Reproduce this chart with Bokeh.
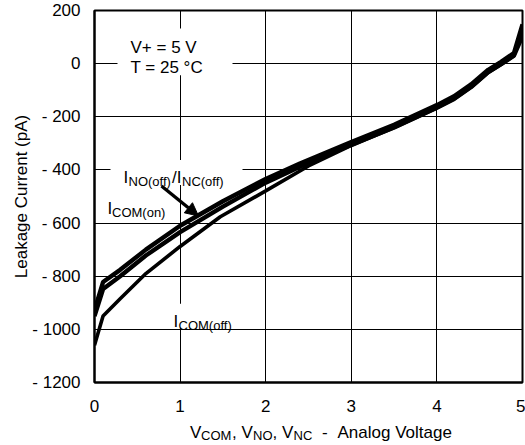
from bokeh.plotting import figure
from bokeh.models import Label, Arrow, NormalHead, BoxAnnotation, FixedTicker, Range1d, LinearAxis
from bokeh.embed import file_html
from bokeh.resources import INLINE

# ---- data ----
voltage = [0, 0.1, 0.3, 0.6, 1.0, 1.5, 2.0, 2.4, 3.0, 3.5, 4.0, 4.2, 4.4, 4.6, 4.75, 4.9, 5.0]
i_com_on = [-928, -822, -776, -700, -610, -518, -434, -376, -295, -230, -156, -123, -78, -23, 7, 40, 148]
i_no_off = [-950, -848, -800, -722, -634, -538, -448, -388, -305, -240, -166, -133, -88, -32, -2, 30, 105]

voltage_com_off = [0, 0.1, 0.3, 0.6, 1.0, 1.47, 2.0, 2.5, 3.0, 3.5, 4.0, 4.2, 4.4, 4.6, 4.75, 4.9, 5.0]
i_com_off = [-1060, -950, -885, -790, -688, -576, -479, -385, -308, -241, -166, -133, -88, -33, -3, 30, 125]

x_ticks = [0, 1, 2, 3, 4, 5]
y_ticks = [-1200, -1000, -800, -600, -400, -200, 0, 200]
y_tick_labels = ["- 1200", "- 1000", "- 800", "- 600", "- 400", "- 200", "0", "200"]

x_title_main = ["V", ", V", ", V", "-", "Analog Voltage"]
x_title_sub = ["COM", "NO", "NC"]

FONT = "Liberation Sans"
MAIN = "17px"
SUB = "13px"

# frame geometry (pixels)
FL, FR, FT, FB = 94, 522, 10, 383
W, H = 525, 445

p = figure(width=W, height=H, x_range=Range1d(0, 5), y_range=Range1d(-1200, 200),
           output_backend="svg", toolbar_location=None,
           min_border_left=FL, min_border_right=W - FR, min_border_top=FT, min_border_bottom=H - FB)
p.background_fill_color = "white"
p.border_fill_color = "white"
p.outline_line_color = "black"
p.outline_line_width = 2


def dx(px):
    return round((px - FL) / (FR - FL) * 5.0, 5)


def dy(py):
    return 200 - (py - FT) / (FB - FT) * 1400.0


# axes
p.xaxis.ticker = FixedTicker(ticks=x_ticks)
p.yaxis.ticker = FixedTicker(ticks=y_ticks)
p.yaxis.major_label_overrides = {t: s for t, s in zip(y_ticks, y_tick_labels)}
for ax in (p.xaxis[0], p.yaxis[0]):
    ax.major_tick_line_color = None
    ax.minor_tick_line_color = None
    ax.axis_line_color = "black"
    ax.axis_line_width = 2
    ax.major_label_text_font = FONT
    ax.major_label_text_font_size = MAIN
    ax.major_label_text_color = "black"
p.xaxis.major_label_standoff = 11
p.yaxis.major_label_standoff = 8
p.yaxis.axis_label = "Leakage Current (pA)"
p.yaxis.axis_label_text_font = FONT
p.yaxis.axis_label_text_font_size = MAIN
p.yaxis.axis_label_text_font_style = "normal"
p.yaxis.axis_label_text_color = "black"
p.yaxis.axis_label_standoff = -2

# x-axis title built from pieces (main text and subscripts) on two label-only axes;
# positions are the pixel centres of each piece
main_pos = [dx(v) for v in (195.2, 241.9, 282.4, 324.3, 394.2)]
sub_pos = [dx(v) for v in (215.7, 262.3, 302.4)]
for pos, texts, size, standoff in [(main_pos, x_title_main, MAIN, 2), (sub_pos, x_title_sub, SUB, -23)]:
    a = LinearAxis(ticker=FixedTicker(ticks=pos),
                   major_label_overrides={k: t for k, t in zip(pos, texts)})
    a.axis_line_color = None
    a.major_tick_line_color = None
    a.minor_tick_line_color = None
    a.major_label_text_font = FONT
    a.major_label_text_font_size = size
    a.major_label_text_color = "black"
    a.major_label_standoff = standoff
    p.add_layout(a, "below")

p.xgrid.ticker = FixedTicker(ticks=x_ticks)
p.ygrid.ticker = FixedTicker(ticks=y_ticks)
p.grid.grid_line_color = "black"
p.grid.grid_line_width = 1
p.grid.grid_line_alpha = 1

# curves
p.line(voltage_com_off, i_com_off, line_color="black", line_width=3.6)
p.line(voltage, i_no_off, line_color="black", line_width=4.4)
p.line(voltage, i_com_on, line_color="black", line_width=4.4)

# white boxes behind the in-plot labels
for (l, r, t, b) in [(117, 232, 28, 75), (110, 242, 160, 185), (168, 240, 304, 328)]:
    p.add_layout(BoxAnnotation(left=dx(l), right=dx(r), top=dy(t), bottom=dy(b),
                               fill_color="white", fill_alpha=1, line_color=None))


def txt(s, px, py, size=MAIN):
    p.add_layout(Label(x=dx(px), y=dy(py), text=s, text_font=FONT, text_font_size=size,
                       text_color="black", text_align="left", text_baseline="alphabetic"))


txt("V+ = 5 V", 130, 47)
txt("T = 25 °C", 130, 67)

txt("I", 123, 177)
txt("NO(off)", 128, 181, SUB)
txt("/I", 171.5, 177)
txt("NC(off)", 181.5, 181, SUB)

txt("I", 107, 209)
txt("COM(on)", 111.5, 213, SUB)

txt("I", 173, 322)
txt("COM(off)", 178, 326, SUB)

p.add_layout(Arrow(end=NormalHead(size=13, fill_color="black", line_color="black"),
                   x_start=dx(161), y_start=dy(186), x_end=dx(198), y_end=dy(216),
                   line_color="black", line_width=3.4))

open("out.html", "w").write(file_html(p, INLINE))
